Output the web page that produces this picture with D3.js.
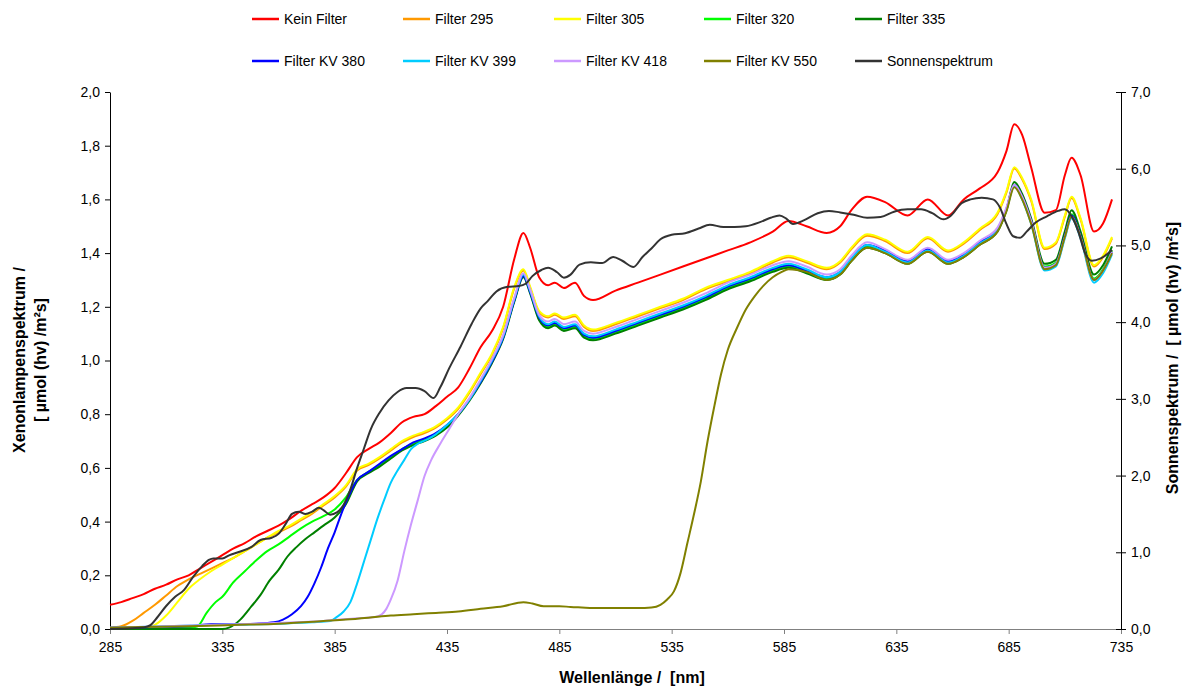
<!DOCTYPE html>
<html>
<head>
<meta charset="utf-8">
<script src="https://cdn.jsdelivr.net/npm/d3@7"></script>
<style>
  body { margin: 0; background: #fff; }
  svg { display: block; font-family: "Liberation Sans", Arial, sans-serif; }
  .title { white-space: pre; }
</style>
</head>
<body>
<div id="chart"></div>
<script>
// x ticks and axis limits
const xTicks = [285, 335, 385, 435, 485, 535, 585, 635, 685, 735];
const leftTicks = [0, 0.2, 0.4, 0.6, 0.8, 1.0, 1.2, 1.4, 1.6, 1.8, 2.0];
const rightTicks = [0, 1, 2, 3, 4, 5, 6, 7];

// shared wavelength grid for the upper part (440 nm and above)
const nmHi = [440, 445, 450, 455, 460, 465, 469, 472, 476, 480, 483, 487, 492, 496, 500,
  510, 520, 530, 540, 550, 560, 570, 580, 587, 595, 604, 610, 615, 622, 630, 640, 649,
  658, 665, 672, 680, 684, 687.5, 691, 695, 701, 706, 710, 713, 717, 723, 727, 731];

// Kein Filter
const keinLo = [[285, 0.09], [290, 0.10], [295, 0.115], [300, 0.13], [305, 0.15], [310, 0.165],
  [315, 0.185], [320, 0.20], [325, 0.225], [330, 0.25], [335, 0.275], [340, 0.30], [345, 0.32],
  [350, 0.345], [355, 0.365], [360, 0.385], [365, 0.41], [370, 0.44], [375, 0.465], [380, 0.49],
  [385, 0.525], [390, 0.58], [395, 0.64], [400, 0.67], [405, 0.695], [410, 0.73], [415, 0.77],
  [420, 0.79], [425, 0.80], [430, 0.83], [435, 0.865]];
const keinHi = [0.90, 0.97, 1.05, 1.11, 1.20, 1.38, 1.475, 1.42, 1.31, 1.28, 1.29, 1.27, 1.29, 1.24, 1.225,
  1.26, 1.29, 1.32, 1.35, 1.38, 1.41, 1.44, 1.48, 1.52, 1.50, 1.475, 1.50, 1.56, 1.61, 1.59, 1.54, 1.60,
  1.54, 1.60, 1.64, 1.70, 1.78, 1.88, 1.84, 1.72, 1.55, 1.56, 1.69, 1.755, 1.69, 1.48, 1.51, 1.60];

// Filter 295
const f295Lo = [[285, 0.005], [290, 0.01], [295, 0.03], [300, 0.06], [305, 0.09], [310, 0.125],
  [315, 0.16], [320, 0.185], [325, 0.205], [330, 0.225], [335, 0.245], [340, 0.265], [345, 0.29],
  [350, 0.315], [355, 0.34], [360, 0.36], [365, 0.38], [370, 0.405], [375, 0.43], [380, 0.46],
  [385, 0.49], [390, 0.53], [395, 0.59], [400, 0.61], [405, 0.635], [410, 0.665], [415, 0.695],
  [420, 0.715], [425, 0.73], [430, 0.75], [435, 0.78]];
const f295Hi = [0.82, 0.88, 0.95, 1.02, 1.12, 1.27, 1.335, 1.27, 1.18, 1.16, 1.17, 1.155, 1.165, 1.125, 1.11,
  1.135, 1.165, 1.195, 1.225, 1.265, 1.295, 1.325, 1.365, 1.385, 1.365, 1.34, 1.365, 1.415, 1.465, 1.445, 1.40, 1.455,
  1.405, 1.435, 1.485, 1.545, 1.625, 1.715, 1.675, 1.595, 1.415, 1.435, 1.535, 1.605, 1.525, 1.35, 1.385, 1.455];

// Filter 305
const f305Lo = [[285, 0.0], [295, 0.0], [300, 0.003], [305, 0.015], [310, 0.05], [315, 0.10],
  [320, 0.15], [325, 0.185], [330, 0.215], [335, 0.24], [340, 0.265], [345, 0.29], [350, 0.315],
  [355, 0.34], [360, 0.365], [365, 0.385], [370, 0.41], [375, 0.435], [380, 0.465], [385, 0.495],
  [390, 0.535], [395, 0.595], [400, 0.615], [405, 0.64], [410, 0.67], [415, 0.70], [420, 0.72],
  [425, 0.735], [430, 0.755], [435, 0.785]];
const f305Hi = [0.825, 0.885, 0.955, 1.025, 1.125, 1.275, 1.34, 1.275, 1.185, 1.165, 1.175, 1.16, 1.17, 1.13, 1.115,
  1.14, 1.17, 1.20, 1.23, 1.27, 1.30, 1.33, 1.37, 1.39, 1.37, 1.345, 1.37, 1.42, 1.47, 1.45, 1.405, 1.46,
  1.41, 1.44, 1.49, 1.55, 1.63, 1.72, 1.68, 1.60, 1.42, 1.44, 1.54, 1.61, 1.53, 1.355, 1.39, 1.46];

// Filter 320
const f320Lo = [[285, 0.003], [320, 0.004], [324, 0.01], [328, 0.06], [332, 0.10], [335, 0.12],
  [340, 0.175], [345, 0.215], [350, 0.255], [355, 0.29], [360, 0.315], [365, 0.345], [370, 0.375],
  [375, 0.40], [380, 0.42], [385, 0.445], [390, 0.49], [395, 0.555], [400, 0.585], [405, 0.61],
  [410, 0.64], [415, 0.67], [420, 0.69], [425, 0.705], [430, 0.725], [435, 0.755]];
const f320Hi = [0.80, 0.855, 0.92, 0.995, 1.085, 1.225, 1.315, 1.255, 1.155, 1.125, 1.135, 1.115, 1.125, 1.09, 1.08,
  1.105, 1.135, 1.165, 1.195, 1.23, 1.27, 1.30, 1.335, 1.35, 1.33, 1.305, 1.325, 1.375, 1.425, 1.405, 1.365, 1.41,
  1.365, 1.39, 1.435, 1.485, 1.56, 1.655, 1.61, 1.52, 1.35, 1.365, 1.47, 1.545, 1.47, 1.305, 1.34, 1.41];

// Filter 335
const f335Lo = [[285, 0.0], [335, 0.0], [338, 0.005], [343, 0.035], [348, 0.085], [352, 0.127],
  [356, 0.18], [360, 0.22], [364, 0.27], [368, 0.305], [372, 0.335], [376, 0.36], [380, 0.385],
  [385, 0.415], [390, 0.465], [395, 0.55], [400, 0.58], [405, 0.605], [410, 0.635], [415, 0.665],
  [420, 0.685], [425, 0.70], [430, 0.72], [435, 0.75]];
const f335Hi = [0.795, 0.85, 0.915, 0.99, 1.08, 1.22, 1.31, 1.25, 1.15, 1.12, 1.13, 1.11, 1.12, 1.085, 1.075,
  1.10, 1.13, 1.16, 1.19, 1.225, 1.265, 1.295, 1.33, 1.345, 1.325, 1.30, 1.32, 1.37, 1.42, 1.40, 1.36, 1.405,
  1.36, 1.385, 1.43, 1.48, 1.56, 1.665, 1.62, 1.53, 1.36, 1.375, 1.48, 1.56, 1.48, 1.32, 1.355, 1.425];

// Filter KV 380
const kv380Lo = [[285, 0.005], [320, 0.01], [330, 0.018], [340, 0.018], [350, 0.02], [358, 0.025],
  [362, 0.035], [366, 0.055], [370, 0.085], [373, 0.12], [376, 0.17], [379, 0.23], [382, 0.30],
  [385, 0.36], [388, 0.43], [391, 0.49], [395, 0.555], [400, 0.585], [405, 0.615], [410, 0.645],
  [415, 0.67], [420, 0.695], [425, 0.71], [430, 0.73], [435, 0.76]];
const kv380Hi = [0.80, 0.855, 0.92, 0.995, 1.085, 1.225, 1.315, 1.255, 1.16, 1.13, 1.14, 1.12, 1.13, 1.095, 1.085,
  1.11, 1.14, 1.17, 1.20, 1.235, 1.275, 1.305, 1.34, 1.355, 1.335, 1.31, 1.33, 1.38, 1.43, 1.41, 1.37, 1.415,
  1.37, 1.395, 1.44, 1.49, 1.565, 1.655, 1.61, 1.52, 1.345, 1.36, 1.465, 1.54, 1.465, 1.30, 1.335, 1.405];

// Filter KV 399
const kv399Lo = [[285, 0.005], [330, 0.015], [360, 0.02], [375, 0.025], [383, 0.03], [386, 0.045],
  [389, 0.065], [392, 0.10], [395, 0.17], [398, 0.25], [401, 0.33], [404, 0.41], [407, 0.48],
  [410, 0.545], [413, 0.59], [416, 0.63], [419, 0.67], [422, 0.69], [426, 0.705], [430, 0.725],
  [435, 0.76]];
const kv399Hi = [0.80, 0.855, 0.925, 1.0, 1.09, 1.23, 1.32, 1.26, 1.165, 1.135, 1.145, 1.125, 1.135, 1.10, 1.09,
  1.115, 1.145, 1.175, 1.205, 1.24, 1.28, 1.31, 1.345, 1.36, 1.34, 1.31, 1.33, 1.38, 1.43, 1.405, 1.365, 1.41,
  1.365, 1.39, 1.435, 1.485, 1.56, 1.65, 1.60, 1.51, 1.335, 1.35, 1.455, 1.53, 1.455, 1.29, 1.325, 1.395];

// Filter KV 418
const kv418Lo = [[285, 0.005], [350, 0.02], [380, 0.03], [395, 0.04], [403, 0.045], [406, 0.055],
  [408, 0.075], [410, 0.11], [413, 0.18], [416, 0.29], [419, 0.39], [422, 0.48], [425, 0.57],
  [428, 0.63], [432, 0.69], [436, 0.745]];
const kv418Hi = [0.80, 0.86, 0.93, 1.005, 1.095, 1.235, 1.325, 1.265, 1.17, 1.145, 1.155, 1.135, 1.145, 1.11, 1.10,
  1.125, 1.155, 1.185, 1.215, 1.25, 1.29, 1.32, 1.355, 1.37, 1.35, 1.32, 1.34, 1.39, 1.44, 1.415, 1.375, 1.42,
  1.375, 1.40, 1.445, 1.495, 1.57, 1.655, 1.61, 1.52, 1.345, 1.36, 1.46, 1.535, 1.46, 1.30, 1.335, 1.405];

// Filter KV 550 (own grid)
const kv550 = [[285, 0.005], [300, 0.007], [320, 0.01], [340, 0.015], [360, 0.02], [380, 0.03],
  [390, 0.035], [400, 0.042], [410, 0.05], [420, 0.055], [430, 0.06], [440, 0.065], [450, 0.075],
  [460, 0.085], [469, 0.10], [473, 0.095], [478, 0.085], [485, 0.085], [490, 0.082], [495, 0.08],
  [500, 0.078], [510, 0.078], [520, 0.078], [526, 0.08], [530, 0.09], [533, 0.11], [536, 0.14],
  [539, 0.21], [542, 0.32], [545, 0.43], [548, 0.55], [551, 0.70], [554, 0.83], [557, 0.95],
  [560, 1.04], [564, 1.12], [568, 1.19], [572, 1.24], [576, 1.28], [580, 1.31], [584, 1.33],
  [587, 1.34], [595, 1.33], [604, 1.30], [610, 1.32], [615, 1.37], [622, 1.42], [630, 1.40],
  [640, 1.36], [649, 1.405], [658, 1.36], [665, 1.385], [672, 1.43], [680, 1.48], [684, 1.555],
  [687.5, 1.645], [691, 1.60], [695, 1.51], [701, 1.34], [706, 1.355], [710, 1.46], [713, 1.535],
  [717, 1.46], [723, 1.30], [727, 1.335], [731, 1.40]];

// Sonnenspektrum (right axis)
const sonne = [[285, 0], [295, 0.01], [300, 0.02], [303, 0.05], [306, 0.15], [310, 0.3], [314, 0.42],
  [318, 0.51], [322, 0.68], [326, 0.82], [329, 0.9], [331, 0.92], [335, 0.92], [338, 0.96], [342, 1.0],
  [348, 1.07], [352, 1.16], [357, 1.19], [360, 1.24], [363, 1.36], [366, 1.5], [369, 1.53], [372, 1.5],
  [375, 1.53], [378, 1.58], [380, 1.55], [383, 1.49], [386, 1.52], [389, 1.62], [392, 1.82], [395, 2.1],
  [398, 2.35], [401, 2.6], [405, 2.82], [409, 2.98], [413, 3.09], [417, 3.14], [421, 3.14], [425, 3.1],
  [429, 3.01], [432, 3.15], [436, 3.4], [441, 3.68], [446, 3.98], [450, 4.18], [453, 4.27], [457, 4.4],
  [462, 4.46], [467, 4.47], [470, 4.5], [473, 4.6], [477, 4.68], [480, 4.71], [484, 4.65], [487, 4.58],
  [490, 4.62], [494, 4.75], [499, 4.78], [504, 4.77], [509, 4.85], [513, 4.80], [518, 4.72], [522, 4.85],
  [526, 4.96], [530, 5.08], [535, 5.14], [541, 5.16], [547, 5.22], [552, 5.27], [558, 5.24], [563, 5.24],
  [568, 5.25], [574, 5.3], [579, 5.36], [583, 5.39], [586, 5.35], [589, 5.28], [594, 5.33], [600, 5.42],
  [605, 5.45], [610, 5.43], [616, 5.40], [622, 5.36], [628, 5.37], [634, 5.44], [640, 5.47], [646, 5.47],
  [651, 5.42], [656, 5.34], [659, 5.38], [664, 5.55], [668, 5.6], [673, 5.62], [678, 5.6], [681, 5.5],
  [684, 5.28], [687, 5.12], [690, 5.1], [693, 5.18], [697, 5.3], [702, 5.38], [707, 5.45], [710, 5.47],
  [713, 5.38], [716, 5.18], [719, 4.9], [722, 4.8], [726, 4.83], [731, 4.94]];

const withHi = (lo, hi) => lo.concat(hi.map((v, i) => [nmHi[i], v]));

const series = [
  { name: "Kein Filter", color: "#FF0000", data: withHi(keinLo, keinHi) },
  { name: "Filter 295", color: "#FF9900", data: withHi(f295Lo, f295Hi) },
  { name: "Filter 305", color: "#FFFF00", data: withHi(f305Lo, f305Hi) },
  { name: "Filter 320", color: "#00FF00", data: withHi(f320Lo, f320Hi) },
  { name: "Filter 335", color: "#008000", data: withHi(f335Lo, f335Hi) },
  { name: "Filter KV 380", color: "#0000FF", data: withHi(kv380Lo, kv380Hi) },
  { name: "Filter KV 399", color: "#00CCFF", data: withHi(kv399Lo, kv399Hi) },
  { name: "Filter KV 418", color: "#CC99FF", data: withHi(kv418Lo, kv418Hi) },
  { name: "Filter KV 550", color: "#808000", data: kv550 },
  { name: "Sonnenspektrum", color: "#333333", data: sonne, right: true }
];

const width = 1186, height = 693;
const margin = { top: 92, right: 65, bottom: 64, left: 110 };
const innerW = 1121 - margin.left;
const innerH = 629 - margin.top;

const svg = d3.select("#chart").append("svg")
  .attr("width", width)
  .attr("height", height);

const g = svg.append("g").attr("transform", `translate(${margin.left},${margin.top})`);

const x = d3.scaleLinear().domain([285, 735]).range([0, innerW]);
const yL = d3.scaleLinear().domain([0, 2]).range([innerH, 0]);
const yR = d3.scaleLinear().domain([0, 7]).range([innerH, 0]);

const fmt = d3.format(".1f");
const comma = d => fmt(d).replace(".", ",");

// x axis
const xAxis = g.append("g")
  .attr("transform", `translate(0,${innerH})`)
  .call(d3.axisBottom(x).tickValues(xTicks).tickFormat(d3.format("d")).tickSize(5).tickSizeOuter(0));
xAxis.select(".domain").attr("stroke", "#808080");
xAxis.selectAll(".tick line").attr("stroke", "#808080");
xAxis.selectAll("text").attr("dy", "1.05em").style("font-size", "14px").attr("fill", "#000");

// left axis
const lAxis = g.append("g")
  .call(d3.axisLeft(yL).tickValues(leftTicks).tickFormat(comma).tickSize(5).tickSizeOuter(0));
lAxis.selectAll("text").attr("x", -10).style("font-size", "14px").attr("fill", "#000");

// right axis, ticks cross the line
const rAxis = g.append("g")
  .attr("transform", `translate(${innerW},0)`)
  .call(d3.axisRight(yR).tickValues(rightTicks).tickFormat(comma).tickSize(5).tickSizeOuter(0));
rAxis.selectAll(".tick line").attr("x1", -5).attr("x2", 5);
rAxis.selectAll("text").attr("x", 10).style("font-size", "14px").attr("fill", "#000");

// lines
const line = yScale => d3.line()
  .x(d => x(d[0]))
  .y(d => yScale(d[1]))
  .curve(d3.curveMonotoneX);

series.forEach(s => {
  g.append("path")
    .datum(s.data)
    .attr("fill", "none")
    .attr("stroke", s.color)
    .attr("stroke-width", 2)
    .attr("stroke-linejoin", "round")
    .attr("d", line(s.right ? yR : yL)(s.data));
});

// axis titles
svg.append("text")
  .attr("class", "title")
  .attr("x", 632).attr("y", 683)
  .attr("text-anchor", "middle")
  .style("font-size", "16px").style("font-weight", "bold")
  .text("Wellenlänge /  [nm]");

const leftTitle = svg.append("text")
  .attr("class", "title")
  .attr("transform", "translate(25,360) rotate(-90)")
  .attr("text-anchor", "middle")
  .style("font-size", "16px").style("font-weight", "bold");
leftTitle.append("tspan").attr("x", 0).attr("dy", 0).text("Xenonlampenspektrum /");
leftTitle.append("tspan").attr("x", 0).attr("dy", 21).text("[ µmol (hv) /m²s]");

svg.append("text")
  .attr("class", "title")
  .attr("transform", "translate(1178,358) rotate(-90)")
  .attr("text-anchor", "middle")
  .style("font-size", "16px").style("font-weight", "bold")
  .text("Sonnenspektrum /  [ µmol (hv) /m²s]");

// legend: 2 rows of 5
const legendCols = [252, 403, 554, 704, 855];
const legendRows = [19, 61];
series.forEach((s, i) => {
  const lx = legendCols[i % 5], ly = legendRows[Math.floor(i / 5)];
  const item = svg.append("g").attr("transform", `translate(${lx},${ly})`);
  item.append("line").attr("x1", 0).attr("x2", 27).attr("y1", 0).attr("y2", 0)
    .attr("stroke", s.color).attr("stroke-width", 2.5);
  item.append("text").attr("x", 32).attr("y", 5)
    .style("font-size", "14px")
    .text(s.name);
});
</script>
</body>
</html>
